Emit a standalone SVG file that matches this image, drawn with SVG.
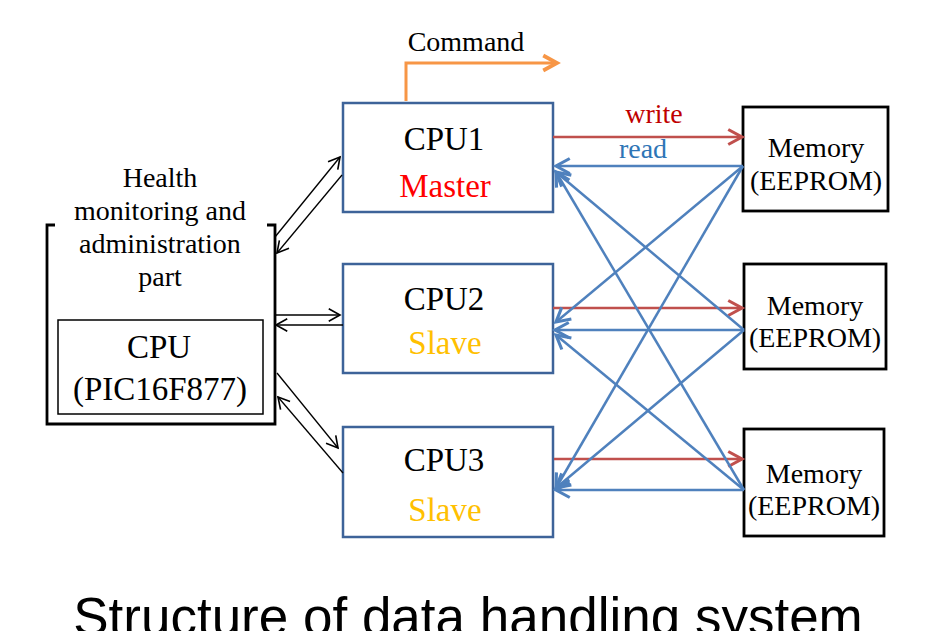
<svg xmlns="http://www.w3.org/2000/svg" width="937" height="631" viewBox="0 0 937 631">
<style>
.t{font-family:"Liberation Serif","Times New Roman",serif;text-anchor:middle}
.f28{font-size:28px}
.f33{font-size:33px}
.cpu{fill:#fff;stroke:#3D6399;stroke-width:2.5}
.mem{fill:#fff;stroke:#000;stroke-width:2.8}
.rd{fill:none;stroke:#4F81BD;stroke-width:2.5;marker-end:url(#ab)}
.wr{fill:none;stroke:#C0504D;stroke-width:2.5;marker-end:url(#ar)}
.bk{fill:none;stroke:#000;stroke-width:1.3;marker-end:url(#ak)}
</style>
<defs>
<marker id="ab" markerUnits="userSpaceOnUse" markerWidth="20" markerHeight="20" viewBox="-14 -8 16 16" refX="0" refY="0" orient="auto" overflow="visible"><path d="M-11,-6 L0,0 L-11,6" fill="none" stroke="#4F81BD" stroke-width="2.5"/></marker>
<marker id="ar" markerUnits="userSpaceOnUse" markerWidth="20" markerHeight="20" viewBox="-14 -8 16 16" refX="0" refY="0" orient="auto" overflow="visible"><path d="M-11,-6 L0,0 L-11,6" fill="none" stroke="#C0504D" stroke-width="2.5"/></marker>
<marker id="ao" markerUnits="userSpaceOnUse" markerWidth="20" markerHeight="20" viewBox="-14 -8 16 16" refX="0" refY="0" orient="auto" overflow="visible"><path d="M-11,-6 L0,0 L-11,6" fill="none" stroke="#F79646" stroke-width="3"/></marker>
<marker id="ak" markerUnits="userSpaceOnUse" markerWidth="20" markerHeight="20" viewBox="-14 -8 16 16" refX="0" refY="0" orient="auto" overflow="visible"><path d="M-9,-5 L0,0 L-9,5" fill="none" stroke="#000" stroke-width="1.3"/></marker>
</defs>
<rect width="937" height="631" fill="#fff"/>

<g id="health">
<path d="M55,225 H47 V424 H275 V225 H267" fill="none" stroke="#000" stroke-width="2.8"/>
<text class="t f28" x="160" y="187">Health</text>
<text class="t f28" x="160" y="220">monitoring and</text>
<text class="t f28" x="160" y="253">administration</text>
<text class="t f28" x="160" y="286">part</text>
</g>
<g id="pic">
<rect x="58" y="320" width="205" height="94" fill="#fff" stroke="#000" stroke-width="1.5"/>
<text class="t f33" x="159" y="358">CPU</text>
<text class="t f33" x="160" y="400">(PIC16F877)</text>
</g>

<g id="cpu1">
<rect class="cpu" x="343" y="103" width="210" height="109"/>
<text class="t f33" x="444" y="150">CPU1</text>
<text class="t f33" x="445" y="197" fill="#FF0000">Master</text>
</g>
<g id="cpu2">
<rect class="cpu" x="343" y="264" width="210" height="109"/>
<text class="t f33" x="444" y="310">CPU2</text>
<text class="t f33" x="445" y="354" fill="#FFC000">Slave</text>
</g>
<g id="cpu3">
<rect class="cpu" x="343" y="427" width="210" height="110"/>
<text class="t f33" x="444" y="471">CPU3</text>
<text class="t f33" x="445" y="521" fill="#FFC000">Slave</text>
</g>

<g id="mem1">
<rect class="mem" x="743" y="107" width="145" height="104"/>
<text class="t f28" x="816" y="157">Memory</text>
<text class="t f28" x="816" y="190">(EEPROM)</text>
</g>
<g id="mem2">
<rect class="mem" x="744" y="264" width="142" height="105"/>
<text class="t f28" x="815" y="315">Memory</text>
<text class="t f28" x="815" y="347">(EEPROM)</text>
</g>
<g id="mem3">
<rect class="mem" x="744" y="429" width="140" height="107"/>
<text class="t f28" x="814" y="483">Memory</text>
<text class="t f28" x="814" y="515">(EEPROM)</text>
</g>

<g id="connectors">
<path d="M406,101 V63 H557" fill="none" stroke="#F79646" stroke-width="3" marker-end="url(#ao)"/>
<line class="bk" x1="275" y1="237" x2="340" y2="157"/>
<line class="bk" x1="342" y1="175" x2="277" y2="253"/>
<line class="bk" x1="275" y1="315" x2="340" y2="315"/>
<line class="bk" x1="343" y1="325" x2="276" y2="325"/>
<line class="bk" x1="277" y1="373" x2="338" y2="448"/>
<line class="bk" x1="343" y1="473" x2="278" y2="397"/>

<line class="wr" x1="553" y1="137" x2="742" y2="137"/>
<line class="wr" x1="553" y1="308" x2="742" y2="308"/>
<line class="wr" x1="554" y1="459" x2="742" y2="459"/>

<line class="rd" x1="743" y1="166" x2="556" y2="166"/>
<line class="rd" x1="743" y1="166" x2="556" y2="322"/>
<line class="rd" x1="743" y1="166" x2="556" y2="488"/>
<line class="rd" x1="744" y1="330" x2="556" y2="172"/>
<line class="rd" x1="744" y1="330" x2="555" y2="330"/>
<line class="rd" x1="744" y1="330" x2="556" y2="488"/>
<line class="rd" x1="744" y1="490" x2="556" y2="172"/>
<line class="rd" x1="744" y1="490" x2="556" y2="335"/>
<line class="rd" x1="744" y1="490" x2="556" y2="490"/>
</g>

<text class="t f28" x="466" y="51">Command</text>
<text class="t f28" x="654" y="123" fill="#C00000">write</text>
<text class="t f28" x="643" y="158" fill="#2E75B6">read</text>
<text x="468" y="635" font-family="'Liberation Sans',Arial,sans-serif" font-size="53" text-anchor="middle">Structure of data handling system</text>
</svg>
